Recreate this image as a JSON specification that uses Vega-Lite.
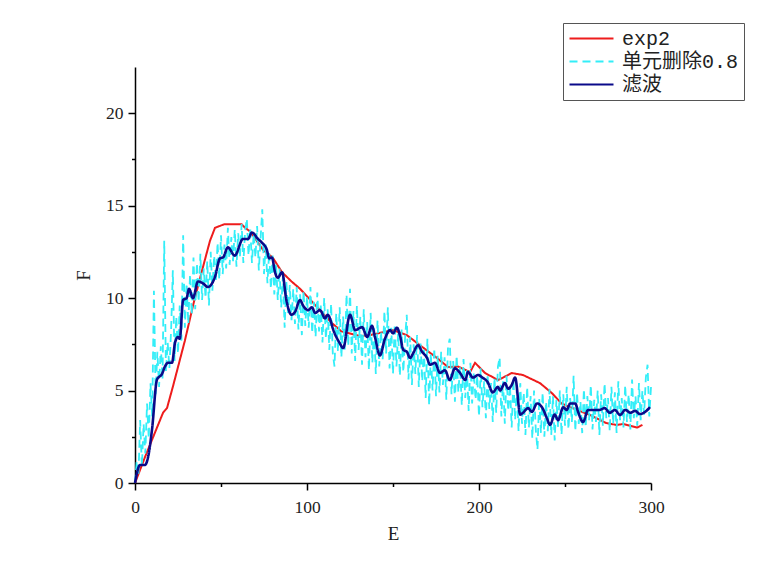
{
  "$schema": "https://vega.github.io/schema/vega-lite/v6.json",
  "autosize": "none",
  "width": 516,
  "height": 416,
  "padding": {"left": 135, "top": 67, "right": 109, "bottom": 98},
  "background": "white",
  "config": {
    "view": {"stroke": null},
    "axis": {
      "domainColor": "black", "domainWidth": 1.5, "tickColor": "black", "tickWidth": 1.5,
      "grid": false, "labelFont": "Liberation Serif", "labelFontSize": 17.5, "labelColor": "#222",
      "titleFont": "Liberation Serif", "titleFontSize": 19, "titleFontWeight": "normal", "titleColor": "#222"
    },
    "legend": {
      "labelFont": "Liberation Mono, Noto Sans CJK SC", "labelFontSize": 20, "labelColor": "#222"
    }
  },
  "datasets": {
    "red": [
      {"s":"exp2","E":0,"F":0},{"s":"exp2","E":5.8,"F":1.4},{"s":"exp2","E":16.3,"F":3.8},{"s":"exp2","E":18.6,"F":4.05},
      {"s":"exp2","E":22,"F":5.2},{"s":"exp2","E":29,"F":7.7},{"s":"exp2","E":34,"F":9.7},{"s":"exp2","E":39,"F":11.5},
      {"s":"exp2","E":43.6,"F":13.1},{"s":"exp2","E":46.5,"F":13.8},{"s":"exp2","E":52,"F":14.0},{"s":"exp2","E":62,"F":14.0},
      {"s":"exp2","E":64,"F":13.8},{"s":"exp2","E":67,"F":13.6},{"s":"exp2","E":74.5,"F":12.6},{"s":"exp2","E":80,"F":12.2},
      {"s":"exp2","E":85.5,"F":11.4},{"s":"exp2","E":91,"F":10.9},{"s":"exp2","E":96,"F":10.5},{"s":"exp2","E":106,"F":9.5},
      {"s":"exp2","E":114.5,"F":8.65},{"s":"exp2","E":120,"F":8.2},{"s":"exp2","E":131,"F":7.95},{"s":"exp2","E":136.6,"F":8.0},
      {"s":"exp2","E":144,"F":8.15},{"s":"exp2","E":150,"F":8.27},{"s":"exp2","E":158,"F":8.0},{"s":"exp2","E":165.7,"F":7.45},
      {"s":"exp2","E":175.6,"F":6.76},{"s":"exp2","E":182,"F":6.27},{"s":"exp2","E":187.8,"F":6.3},{"s":"exp2","E":194.8,"F":6.0},
      {"s":"exp2","E":197.7,"F":6.5},{"s":"exp2","E":203.5,"F":5.95},{"s":"exp2","E":211,"F":5.57},{"s":"exp2","E":214,"F":5.7},
      {"s":"exp2","E":219,"F":5.95},{"s":"exp2","E":225.6,"F":5.84},{"s":"exp2","E":235.5,"F":5.4},{"s":"exp2","E":242.4,"F":4.86},
      {"s":"exp2","E":248,"F":4.3},{"s":"exp2","E":257,"F":3.95},{"s":"exp2","E":264.5,"F":3.68},{"s":"exp2","E":274,"F":3.24},
      {"s":"exp2","E":280,"F":3.14},{"s":"exp2","E":283.7,"F":3.19},{"s":"exp2","E":292,"F":3.0},{"s":"exp2","E":295,"F":3.14}
    ],
    "cut": [
      {"s":"单元删除0.8","E":0,"F":0.0},{"s":"单元删除0.8","E":1,"F":1.2},{"s":"单元删除0.8","E":2,"F":0.4},{"s":"单元删除0.8","E":3,"F":3.4},{"s":"单元删除0.8","E":4,"F":0.9},
      {"s":"单元删除0.8","E":5,"F":3.2},{"s":"单元删除0.8","E":6,"F":1.6},{"s":"单元删除0.8","E":7,"F":4.3},{"s":"单元删除0.8","E":8,"F":2.4},{"s":"单元删除0.8","E":9,"F":5.4},
      {"s":"单元删除0.8","E":10,"F":3.6},{"s":"单元删除0.8","E":11,"F":10.4},{"s":"单元删除0.8","E":12,"F":4.8},{"s":"单元删除0.8","E":13,"F":7.1},{"s":"单元删除0.8","E":14,"F":5.2},
      {"s":"单元删除0.8","E":15,"F":7.4},{"s":"单元删除0.8","E":16,"F":5.6},{"s":"单元删除0.8","E":17,"F":13.1},{"s":"单元删除0.8","E":18,"F":6.0},{"s":"单元删除0.8","E":19,"F":7.6},
      {"s":"单元删除0.8","E":20,"F":6.2},{"s":"单元删除0.8","E":21,"F":8.3},{"s":"单元删除0.8","E":22,"F":11.5},{"s":"单元删除0.8","E":23,"F":6.6},{"s":"单元删除0.8","E":24,"F":9.0},
      {"s":"单元删除0.8","E":25,"F":7.0},{"s":"单元删除0.8","E":26,"F":9.6},{"s":"单元删除0.8","E":27,"F":7.7},{"s":"单元删除0.8","E":28,"F":13.4},{"s":"单元删除0.8","E":29,"F":8.4},
      {"s":"单元删除0.8","E":30,"F":10.8},{"s":"单元删除0.8","E":31,"F":8.6},{"s":"单元删除0.8","E":32,"F":11.3},{"s":"单元删除0.8","E":33,"F":9.1},{"s":"单元删除0.8","E":34,"F":12.2},
      {"s":"单元删除0.8","E":35,"F":9.4},{"s":"单元删除0.8","E":36,"F":11.9},{"s":"单元删除0.8","E":37,"F":9.8},{"s":"单元删除0.8","E":38,"F":12.4},{"s":"单元删除0.8","E":39,"F":9.9},
      {"s":"单元删除0.8","E":40,"F":11.6},{"s":"单元删除0.8","E":41,"F":10.0},{"s":"单元删除0.8","E":42,"F":12.0},{"s":"单元删除0.8","E":43,"F":9.6},{"s":"单元删除0.8","E":44,"F":12.5},
      {"s":"单元删除0.8","E":45,"F":10.4},{"s":"单元删除0.8","E":46,"F":12.3},{"s":"单元删除0.8","E":47,"F":10.9},{"s":"单元删除0.8","E":48,"F":13.0},{"s":"单元删除0.8","E":49,"F":11.0},
      {"s":"单元删除0.8","E":50,"F":13.4},{"s":"单元删除0.8","E":51,"F":11.3},{"s":"单元删除0.8","E":52,"F":12.9},{"s":"单元删除0.8","E":53,"F":11.6},{"s":"单元删除0.8","E":54,"F":13.8},
      {"s":"单元删除0.8","E":55,"F":11.8},{"s":"单元删除0.8","E":56,"F":13.3},{"s":"单元删除0.8","E":57,"F":12.0},{"s":"单元删除0.8","E":58,"F":13.7},{"s":"单元删除0.8","E":59,"F":11.7},
      {"s":"单元删除0.8","E":60,"F":13.5},{"s":"单元删除0.8","E":61,"F":12.2},{"s":"单元删除0.8","E":62,"F":14.0},{"s":"单元删除0.8","E":63,"F":11.9},{"s":"单元删除0.8","E":64,"F":13.6},
      {"s":"单元删除0.8","E":65,"F":14.3},{"s":"单元删除0.8","E":66,"F":12.3},{"s":"单元删除0.8","E":67,"F":13.8},{"s":"单元删除0.8","E":68,"F":11.9},{"s":"单元删除0.8","E":69,"F":13.5},
      {"s":"单元删除0.8","E":70,"F":12.2},{"s":"单元删除0.8","E":71,"F":13.9},{"s":"单元删除0.8","E":72,"F":11.5},{"s":"单元删除0.8","E":73,"F":13.2},{"s":"单元删除0.8","E":74,"F":14.8},
      {"s":"单元删除0.8","E":75,"F":11.3},{"s":"单元删除0.8","E":76,"F":12.9},{"s":"单元删除0.8","E":77,"F":10.8},{"s":"单元删除0.8","E":78,"F":12.5},{"s":"单元删除0.8","E":79,"F":10.5},
      {"s":"单元删除0.8","E":80,"F":12.3},{"s":"单元删除0.8","E":81,"F":10.2},{"s":"单元删除0.8","E":82,"F":11.9},{"s":"单元删除0.8","E":83,"F":9.9},{"s":"单元删除0.8","E":84,"F":11.6},
      {"s":"单元删除0.8","E":85,"F":9.5},{"s":"单元删除0.8","E":86,"F":11.2},{"s":"单元删除0.8","E":87,"F":8.4},{"s":"单元删除0.8","E":88,"F":10.9},{"s":"单元删除0.8","E":89,"F":9.2},
      {"s":"单元删除0.8","E":90,"F":10.7},{"s":"单元删除0.8","E":91,"F":8.8},{"s":"单元删除0.8","E":92,"F":10.5},{"s":"单元删除0.8","E":93,"F":8.6},{"s":"单元删除0.8","E":94,"F":10.6},
      {"s":"单元删除0.8","E":95,"F":8.3},{"s":"单元删除0.8","E":96,"F":10.2},{"s":"单元删除0.8","E":97,"F":8.0},{"s":"单元删除0.8","E":98,"F":10.4},{"s":"单元删除0.8","E":99,"F":8.5},
      {"s":"单元删除0.8","E":100,"F":10.1},{"s":"单元删除0.8","E":101,"F":8.4},{"s":"单元删除0.8","E":102,"F":10.6},{"s":"单元删除0.8","E":103,"F":8.1},{"s":"单元删除0.8","E":104,"F":9.8},
      {"s":"单元删除0.8","E":105,"F":7.9},{"s":"单元删除0.8","E":106,"F":10.3},{"s":"单元删除0.8","E":107,"F":8.2},{"s":"单元删除0.8","E":108,"F":9.6},{"s":"单元删除0.8","E":109,"F":7.6},
      {"s":"单元删除0.8","E":110,"F":10.0},{"s":"单元删除0.8","E":111,"F":7.8},{"s":"单元删除0.8","E":112,"F":9.4},{"s":"单元删除0.8","E":113,"F":7.2},{"s":"单元删除0.8","E":114,"F":9.7},
      {"s":"单元删除0.8","E":115,"F":7.0},{"s":"单元删除0.8","E":116,"F":6.3},{"s":"单元删除0.8","E":117,"F":9.2},{"s":"单元删除0.8","E":118,"F":7.1},{"s":"单元删除0.8","E":119,"F":9.5},
      {"s":"单元删除0.8","E":120,"F":6.8},{"s":"单元删除0.8","E":121,"F":9.0},{"s":"单元删除0.8","E":122,"F":7.2},{"s":"单元删除0.8","E":123,"F":10.2},{"s":"单元删除0.8","E":124,"F":7.4},
      {"s":"单元删除0.8","E":125,"F":10.5},{"s":"单元删除0.8","E":126,"F":7.0},{"s":"单元删除0.8","E":127,"F":9.3},{"s":"单元删除0.8","E":128,"F":6.6},{"s":"单元删除0.8","E":129,"F":9.6},
      {"s":"单元删除0.8","E":130,"F":7.2},{"s":"单元删除0.8","E":131,"F":9.0},{"s":"单元删除0.8","E":132,"F":6.4},{"s":"单元删除0.8","E":133,"F":9.4},{"s":"单元删除0.8","E":134,"F":6.8},
      {"s":"单元删除0.8","E":135,"F":8.7},{"s":"单元删除0.8","E":136,"F":6.1},{"s":"单元删除0.8","E":137,"F":9.2},{"s":"单元删除0.8","E":138,"F":6.5},{"s":"单元删除0.8","E":139,"F":8.5},
      {"s":"单元删除0.8","E":140,"F":5.9},{"s":"单元删除0.8","E":141,"F":8.8},{"s":"单元删除0.8","E":142,"F":6.3},{"s":"单元删除0.8","E":143,"F":8.2},{"s":"单元删除0.8","E":144,"F":6.7},
      {"s":"单元删除0.8","E":145,"F":9.3},{"s":"单元删除0.8","E":146,"F":7.0},{"s":"单元删除0.8","E":147,"F":9.5},{"s":"单元删除0.8","E":148,"F":6.2},{"s":"单元删除0.8","E":149,"F":8.4},
      {"s":"单元删除0.8","E":150,"F":5.9},{"s":"单元删除0.8","E":151,"F":8.6},{"s":"单元删除0.8","E":152,"F":6.3},{"s":"单元删除0.8","E":153,"F":8.1},{"s":"单元删除0.8","E":154,"F":5.8},
      {"s":"单元删除0.8","E":155,"F":8.3},{"s":"单元删除0.8","E":156,"F":6.0},{"s":"单元删除0.8","E":157,"F":7.8},{"s":"单元删除0.8","E":158,"F":9.1},{"s":"单元删除0.8","E":159,"F":5.6},
      {"s":"单元删除0.8","E":160,"F":7.9},{"s":"单元删除0.8","E":161,"F":5.3},{"s":"单元删除0.8","E":162,"F":7.5},{"s":"单元删除0.8","E":163,"F":5.9},{"s":"单元删除0.8","E":164,"F":8.0},
      {"s":"单元删除0.8","E":165,"F":5.2},{"s":"单元删除0.8","E":166,"F":7.6},{"s":"单元删除0.8","E":167,"F":5.5},{"s":"单元删除0.8","E":168,"F":7.2},{"s":"单元删除0.8","E":169,"F":4.6},
      {"s":"单元删除0.8","E":170,"F":7.8},{"s":"单元删除0.8","E":171,"F":4.2},{"s":"单元删除0.8","E":172,"F":7.0},{"s":"单元删除0.8","E":173,"F":5.0},{"s":"单元删除0.8","E":174,"F":7.3},
      {"s":"单元删除0.8","E":175,"F":4.7},{"s":"单元删除0.8","E":176,"F":6.9},{"s":"单元删除0.8","E":177,"F":4.9},{"s":"单元删除0.8","E":178,"F":7.1},{"s":"单元删除0.8","E":179,"F":5.3},
      {"s":"单元删除0.8","E":180,"F":6.8},{"s":"单元删除0.8","E":181,"F":4.5},{"s":"单元删除0.8","E":182,"F":7.4},{"s":"单元删除0.8","E":183,"F":7.8},{"s":"单元删除0.8","E":184,"F":4.8},
      {"s":"单元删除0.8","E":185,"F":6.6},{"s":"单元删除0.8","E":186,"F":4.4},{"s":"单元删除0.8","E":187,"F":6.9},{"s":"单元删除0.8","E":188,"F":4.9},{"s":"单元删除0.8","E":189,"F":6.3},
      {"s":"单元删除0.8","E":190,"F":4.2},{"s":"单元删除0.8","E":191,"F":6.7},{"s":"单元删除0.8","E":192,"F":4.6},{"s":"单元删除0.8","E":193,"F":6.1},{"s":"单元删除0.8","E":194,"F":3.9},
      {"s":"单元删除0.8","E":195,"F":6.5},{"s":"单元删除0.8","E":196,"F":4.3},{"s":"单元删除0.8","E":197,"F":6.0},{"s":"单元删除0.8","E":198,"F":4.5},{"s":"单元删除0.8","E":199,"F":5.8},
      {"s":"单元删除0.8","E":200,"F":3.6},{"s":"单元删除0.8","E":201,"F":6.2},{"s":"单元删除0.8","E":202,"F":4.1},{"s":"单元删除0.8","E":203,"F":5.5},{"s":"单元删除0.8","E":204,"F":3.5},
      {"s":"单元删除0.8","E":205,"F":5.9},{"s":"单元删除0.8","E":206,"F":4.0},{"s":"单元删除0.8","E":207,"F":5.4},{"s":"单元删除0.8","E":208,"F":3.3},{"s":"单元删除0.8","E":209,"F":5.7},
      {"s":"单元删除0.8","E":210,"F":3.8},{"s":"单元删除0.8","E":211,"F":6.3},{"s":"单元删除0.8","E":212,"F":6.8},{"s":"单元删除0.8","E":213,"F":3.6},{"s":"单元删除0.8","E":214,"F":5.5},
      {"s":"单元删除0.8","E":215,"F":3.2},{"s":"单元删除0.8","E":216,"F":5.8},{"s":"单元删除0.8","E":217,"F":3.9},{"s":"单元删除0.8","E":218,"F":5.3},{"s":"单元删除0.8","E":219,"F":3.0},
      {"s":"单元删除0.8","E":220,"F":5.6},{"s":"单元删除0.8","E":221,"F":3.4},{"s":"单元删除0.8","E":222,"F":5.1},{"s":"单元删除0.8","E":223,"F":2.8},{"s":"单元删除0.8","E":224,"F":5.4},
      {"s":"单元删除0.8","E":225,"F":3.2},{"s":"单元删除0.8","E":226,"F":4.9},{"s":"单元删除0.8","E":227,"F":2.6},{"s":"单元删除0.8","E":228,"F":5.2},{"s":"单元删除0.8","E":229,"F":3.0},
      {"s":"单元删除0.8","E":230,"F":4.7},{"s":"单元删除0.8","E":231,"F":2.4},{"s":"单元删除0.8","E":232,"F":5.0},{"s":"单元删除0.8","E":233,"F":2.9},{"s":"单元删除0.8","E":234,"F":1.8},
      {"s":"单元删除0.8","E":235,"F":4.6},{"s":"单元删除0.8","E":236,"F":2.7},{"s":"单元删除0.8","E":237,"F":4.9},{"s":"单元删除0.8","E":238,"F":2.5},{"s":"单元删除0.8","E":239,"F":4.4},
      {"s":"单元删除0.8","E":240,"F":2.8},{"s":"单元删除0.8","E":241,"F":5.1},{"s":"单元删除0.8","E":242,"F":2.6},{"s":"单元删除0.8","E":243,"F":4.7},{"s":"单元删除0.8","E":244,"F":2.3},
      {"s":"单元删除0.8","E":245,"F":4.5},{"s":"单元删除0.8","E":246,"F":3.0},{"s":"单元删除0.8","E":247,"F":5.0},{"s":"单元删除0.8","E":248,"F":2.6},{"s":"单元删除0.8","E":249,"F":4.8},
      {"s":"单元删除0.8","E":250,"F":3.1},{"s":"单元删除0.8","E":251,"F":5.2},{"s":"单元删除0.8","E":252,"F":2.9},{"s":"单元删除0.8","E":253,"F":4.6},{"s":"单元删除0.8","E":254,"F":3.3},
      {"s":"单元删除0.8","E":255,"F":5.8},{"s":"单元删除0.8","E":256,"F":2.8},{"s":"单元删除0.8","E":257,"F":4.9},{"s":"单元删除0.8","E":258,"F":3.2},{"s":"单元删除0.8","E":259,"F":4.4},
      {"s":"单元删除0.8","E":260,"F":2.7},{"s":"单元删除0.8","E":261,"F":5.1},{"s":"单元删除0.8","E":262,"F":3.0},{"s":"单元删除0.8","E":263,"F":4.7},{"s":"单元删除0.8","E":264,"F":3.4},
      {"s":"单元删除0.8","E":265,"F":5.3},{"s":"单元删除0.8","E":266,"F":2.9},{"s":"单元删除0.8","E":267,"F":4.5},{"s":"单元删除0.8","E":268,"F":3.3},{"s":"单元删除0.8","E":269,"F":5.0},
      {"s":"单元删除0.8","E":270,"F":2.6},{"s":"单元删除0.8","E":271,"F":4.8},{"s":"单元删除0.8","E":272,"F":3.1},{"s":"单元删除0.8","E":273,"F":5.4},{"s":"单元删除0.8","E":274,"F":3.5},
      {"s":"单元删除0.8","E":275,"F":4.6},{"s":"单元删除0.8","E":276,"F":2.8},{"s":"单元删除0.8","E":277,"F":5.2},{"s":"单元删除0.8","E":278,"F":3.2},{"s":"单元删除0.8","E":279,"F":4.9},
      {"s":"单元删除0.8","E":280,"F":2.7},{"s":"单元删除0.8","E":281,"F":5.5},{"s":"单元删除0.8","E":282,"F":3.4},{"s":"单元删除0.8","E":283,"F":4.6},{"s":"单元删除0.8","E":284,"F":3.0},
      {"s":"单元删除0.8","E":285,"F":5.3},{"s":"单元删除0.8","E":286,"F":3.3},{"s":"单元删除0.8","E":287,"F":4.8},{"s":"单元删除0.8","E":288,"F":2.9},{"s":"单元删除0.8","E":289,"F":5.6},
      {"s":"单元删除0.8","E":290,"F":3.5},{"s":"单元删除0.8","E":291,"F":4.7},{"s":"单元删除0.8","E":292,"F":3.1},{"s":"单元删除0.8","E":293,"F":5.4},{"s":"单元删除0.8","E":294,"F":3.4},
      {"s":"单元删除0.8","E":295,"F":5.0},{"s":"单元删除0.8","E":296,"F":3.7},{"s":"单元删除0.8","E":297,"F":5.7},{"s":"单元删除0.8","E":298,"F":6.4},{"s":"单元删除0.8","E":299,"F":3.6},
      {"s":"单元删除0.8","E":300,"F":5.2}
    ],
    "filt": [
      {"s":"滤波","E":0,"F":0},{"s":"滤波","E":2.9,"F":0.97},{"s":"滤波","E":5.8,"F":0.97},{"s":"滤波","E":7.6,"F":1.4},
      {"s":"滤波","E":9.9,"F":2.9},{"s":"滤波","E":12.8,"F":5.6},{"s":"滤波","E":15.7,"F":5.9},{"s":"滤波","E":17.4,"F":6.3},
      {"s":"滤波","E":19.2,"F":6.5},{"s":"滤波","E":21.5,"F":6.5},{"s":"滤波","E":23.3,"F":7.6},{"s":"滤波","E":25,"F":7.9},
      {"s":"滤波","E":26,"F":7.8},{"s":"滤波","E":28,"F":9.9},{"s":"滤波","E":30,"F":10},{"s":"滤波","E":31.4,"F":10.5},
      {"s":"滤波","E":33.7,"F":10.0},{"s":"滤波","E":36.6,"F":10.9},{"s":"滤波","E":39.5,"F":10.8},{"s":"滤波","E":42.4,"F":10.6},
      {"s":"滤波","E":46.5,"F":11.15},{"s":"滤波","E":49.4,"F":12.15},{"s":"滤波","E":51.2,"F":12.2},{"s":"滤波","E":54,"F":12.75},
      {"s":"滤波","E":58,"F":12.3},{"s":"滤波","E":62.8,"F":13.2},{"s":"滤波","E":65.7,"F":13.2},{"s":"滤波","E":68,"F":13.55},
      {"s":"滤波","E":71.5,"F":13.2},{"s":"滤波","E":73.8,"F":13.0},{"s":"滤波","E":76.7,"F":12.6},{"s":"滤波","E":78,"F":12.15},
      {"s":"滤波","E":79.6,"F":12.2},{"s":"滤波","E":81.4,"F":11.4},{"s":"滤波","E":83,"F":11.1},{"s":"滤波","E":85.5,"F":11.4},
      {"s":"滤波","E":88,"F":9.9},{"s":"滤波","E":91,"F":9.1},{"s":"滤波","E":93,"F":9.25},{"s":"滤波","E":96,"F":9.9},
      {"s":"滤波","E":97.7,"F":9.6},{"s":"滤波","E":100.6,"F":9.35},{"s":"滤波","E":102.9,"F":9.5},{"s":"滤波","E":104.7,"F":9.2},
      {"s":"滤波","E":107.6,"F":9.35},{"s":"滤波","E":110.5,"F":8.9},{"s":"滤波","E":112,"F":9.1},{"s":"滤波","E":116,"F":8.1},
      {"s":"滤波","E":119,"F":7.57},{"s":"滤波","E":121,"F":7.3},{"s":"滤波","E":125,"F":9.1},{"s":"滤波","E":128,"F":8.27},
      {"s":"滤波","E":132,"F":8.43},{"s":"滤波","E":135,"F":7.9},{"s":"滤波","E":137.8,"F":8.5},{"s":"滤波","E":139.5,"F":7.9},
      {"s":"滤波","E":142.4,"F":6.9},{"s":"滤波","E":145.3,"F":7.8},{"s":"滤波","E":148.3,"F":8.27},{"s":"滤波","E":150,"F":8.1},
      {"s":"滤波","E":152.3,"F":8.4},{"s":"滤波","E":154,"F":8.0},{"s":"滤波","E":156,"F":7.2},{"s":"滤波","E":158,"F":7.1},
      {"s":"滤波","E":160,"F":6.76},{"s":"滤波","E":161.6,"F":7.0},{"s":"滤波","E":164.5,"F":7.45},{"s":"滤波","E":166.9,"F":7.1},
      {"s":"滤波","E":169.8,"F":6.76},{"s":"滤波","E":171.5,"F":6.4},{"s":"滤波","E":174.4,"F":6.5},{"s":"滤波","E":177.3,"F":5.95},
      {"s":"滤波","E":180.2,"F":6.1},{"s":"滤波","E":183,"F":5.57},{"s":"滤波","E":186,"F":6.2},{"s":"滤波","E":189,"F":5.95},
      {"s":"滤波","E":192,"F":5.57},{"s":"滤波","E":193.6,"F":6.0},{"s":"滤波","E":196.5,"F":5.7},{"s":"滤波","E":199.4,"F":5.84},
      {"s":"滤波","E":202,"F":5.7},{"s":"滤波","E":205,"F":5.46},{"s":"滤波","E":208,"F":4.9},{"s":"滤波","E":211,"F":5.2},
      {"s":"滤波","E":212.2,"F":5.0},{"s":"滤波","E":215,"F":5.4},{"s":"滤波","E":217,"F":5.1},{"s":"滤波","E":219,"F":5.3},
      {"s":"滤波","E":221,"F":5.7},{"s":"滤波","E":224,"F":3.7},{"s":"滤波","E":225.6,"F":3.8},{"s":"滤波","E":228.5,"F":4.05},
      {"s":"滤波","E":230.8,"F":3.85},{"s":"滤波","E":233.7,"F":4.3},{"s":"滤波","E":236.6,"F":4.1},{"s":"滤波","E":239.5,"F":3.5},
      {"s":"滤波","E":241.3,"F":3.14},{"s":"滤波","E":244,"F":3.7},{"s":"滤波","E":246,"F":3.4},{"s":"滤波","E":249,"F":4.1},
      {"s":"滤波","E":251,"F":3.95},{"s":"滤波","E":253,"F":4.3},{"s":"滤波","E":256,"F":4.3},{"s":"滤波","E":257.6,"F":3.85},
      {"s":"滤波","E":260.5,"F":3.3},{"s":"滤波","E":263.4,"F":3.95},{"s":"滤波","E":266,"F":3.95},{"s":"滤波","E":270,"F":3.95},
      {"s":"滤波","E":273,"F":4.05},{"s":"滤波","E":276,"F":3.8},{"s":"滤波","E":279,"F":3.95},{"s":"滤波","E":282,"F":3.68},
      {"s":"滤波","E":285,"F":3.95},{"s":"滤波","E":288,"F":3.8},{"s":"滤波","E":290.7,"F":3.9},{"s":"滤波","E":293.6,"F":3.73},
      {"s":"滤波","E":296.5,"F":3.84},{"s":"滤波","E":299.4,"F":4.1}
    ]
  },
  "encoding": {
    "x": {
      "field": "E", "type": "quantitative", "title": "E",
      "scale": {"domain": [0, 300], "nice": false, "zero": false},
      "axis": {
        "values": [0, 50, 100, 150, 200, 250, 300],
        "labelExpr": "datum.value % 100 === 0 ? datum.label : ''",
        "tickSize": {"condition": {"test": "datum.value % 100 !== 0", "value": 3.5}, "value": 7},
        "labelPadding": 8, "titlePadding": 9, "labelFlush": false
      }
    },
    "y": {
      "field": "F", "type": "quantitative", "title": "F",
      "scale": {"domain": [0, 22.5], "nice": false, "zero": false},
      "axis": {
        "values": [0, 2.5, 5, 7.5, 10, 12.5, 15, 17.5, 20],
        "labelExpr": "datum.value % 5 === 0 ? datum.label : ''",
        "tickSize": {"condition": {"test": "datum.value % 5 !== 0", "value": 3.5}, "value": 7},
        "labelPadding": 5, "titlePadding": 12, "labelFlush": false
      }
    },
    "color": {
      "field": "s", "type": "nominal",
      "scale": {"domain": ["exp2", "单元删除0.8", "滤波"], "range": ["#ee1c1c", "#33eef8", "#0a0a8a"]},
      "legend": {
        "title": null, "orient": "none", "legendX": 428, "legendY": -44,
        "symbolType": "stroke", "symbolSize": 1936, "symbolStrokeWidth": 2.2,
        "clipHeight": 21, "labelOffset": 7, "rowPadding": 2, "padding": 5,
        "strokeColor": "#555", "fillColor": "white"
      }
    },
    "strokeDash": {
      "field": "s", "type": "nominal",
      "scale": {"domain": ["exp2", "单元删除0.8", "滤波"], "range": [[1, 0], [8, 5], [1, 0]]},
      "legend": null
    }
  },
  "layer": [
    {"data": {"name": "red"}, "mark": {"type": "line", "strokeWidth": 2}},
    {"data": {"name": "cut"}, "mark": {"type": "line", "strokeWidth": 1.8}},
    {"data": {"name": "filt"}, "mark": {"type": "line", "strokeWidth": 2.6, "interpolate": "monotone"}}
  ]
}
